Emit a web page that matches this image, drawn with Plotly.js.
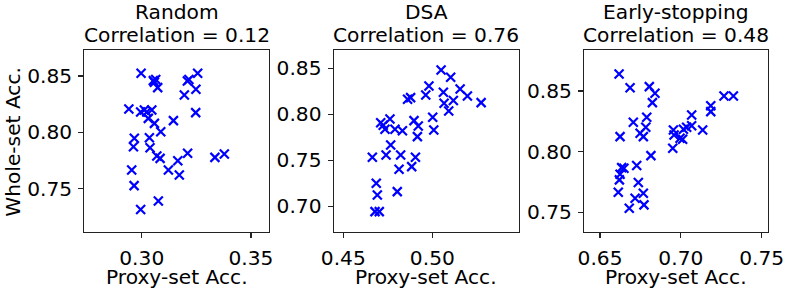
<!DOCTYPE html>
<html>
<head>
<meta charset="utf-8">
<script src="https://cdn.plot.ly/plotly-3.0.1.min.js"></script>
<style>html,body{margin:0;padding:0;background:#fff;}#chart{width:789px;height:290px;}</style>
</head>
<body>
<div id="chart"></div>
<script>
// Panel titles
const panelNames = ["Random", "DSA", "Early-stopping"];
const correlations = ["0.12", "0.76", "0.48"];
const xLabel = "Proxy-set Acc.";
const yLabel = "Whole-set Acc.";

// Random selection
const randomProxy = [0.2997,0.3053,0.3064,0.3058,0.3073,0.3195,0.3216,0.3209,0.3256,0.3248,
  0.2941,0.2995,0.3012,0.3023,0.3046,0.3030,0.3058,0.3087,0.3145,0.3247,
  0.2966,0.2962,0.3035,0.3038,0.3069,0.3084,0.3165,0.3210,0.3335,0.3378,
  0.3122,0.3172,0.2954,0.2965,0.3076,0.2995];
const randomWhole = [0.8524,0.8459,0.8470,0.8444,0.8397,0.8331,0.8470,0.8456,0.8524,0.8382,
  0.8207,0.8180,0.8198,0.8180,0.8198,0.8124,0.8080,0.8006,0.8104,0.8175,
  0.7947,0.7873,0.7953,0.7864,0.7790,0.7769,0.7748,0.7814,0.7778,0.7808,
  0.7666,0.7621,0.7666,0.7527,0.7390,0.7316];

// DSA
const dsaProxy = [0.5049,0.5103,0.5156,0.5197,0.5274,0.5062,0.5118,0.5066,0.5092,0.4981,
  0.4963,0.4861,0.4878,0.5002,0.5008,0.4897,0.4921,0.4916,0.4762,0.4710,
  0.4734,0.4790,0.4832,0.4766,0.4740,0.4822,0.4905,0.4663,0.4813,0.4884,
  0.4803,0.4685,0.4691,0.4678,0.4702,0.4724];
const dsaWhole = [0.8482,0.8402,0.8275,0.8199,0.8127,0.8239,0.8149,0.8120,0.8036,0.8308,
  0.8210,0.8163,0.8181,0.7967,0.7830,0.7931,0.7873,0.7757,0.7949,0.7909,
  0.7837,0.7837,0.7822,0.7667,0.7558,0.7558,0.7533,0.7533,0.7402,0.7431,
  0.7159,0.7250,0.7123,0.6942,0.6942,0.7880];

// Early-stopping
const esProxy = [0.6618,0.6686,0.6805,0.6840,0.6824,0.6789,0.6706,0.6783,0.6748,0.6768,
  0.6624,0.6815,0.6727,0.6634,0.6648,0.6624,0.6620,0.6737,0.6613,0.6768,
  0.6717,0.6772,0.6681,0.6954,0.6958,0.6995,0.7016,0.7036,0.7067,0.7067,
  0.7011,0.6950,0.7135,0.7185,0.7185,0.7267,0.7325];
const esWhole = [0.8640,0.8527,0.8536,0.8481,0.8404,0.8283,0.8242,0.8201,0.8151,0.8124,
  0.8124,0.7967,0.7885,0.7868,0.7863,0.7813,0.7767,0.7745,0.7665,0.7657,
  0.7615,0.7561,0.7533,0.8179,0.8137,0.8110,0.8184,0.8201,0.8214,0.8302,
  0.8102,0.8028,0.8179,0.8379,0.8330,0.8459,0.8459];

// Ticks
const xTicks = [[0.30,0.35],[0.45,0.50],[0.65,0.70,0.75]];
const yTicks = [[0.75,0.80,0.85],[0.70,0.75,0.80,0.85],[0.75,0.80,0.85]];
const xRanges = [[0.2737,0.3584],[0.4446,0.5485],[0.6401,0.7541]];
const yRanges = [[0.7113,0.8731],[0.6717,0.8699],[0.7335,0.8838]];

const W = 789, H = 290;
const xDom = [[84.3,269.3],[333.7,518.7],[584,768.3]];
const yTop = 50, yBot = 232.3;
const FONT = "DejaVu Sans, sans-serif";
const FS = 20.2;

const xs = [randomProxy, dsaProxy, esProxy];
const ys = [randomWhole, dsaWhole, esWhole];

const traces = [];
const layout = {
  width: W, height: H,
  margin: {l:0, r:0, t:0, b:0},
  paper_bgcolor: "#fff", plot_bgcolor: "#fff",
  showlegend: false,
  font: {family: FONT, size: FS, color: "#000"},
  annotations: []
};

for (let i = 0; i < 3; i++) {
  const sfx = i === 0 ? "" : String(i+1);
  traces.push({
    type: "scatter", mode: "markers",
    x: xs[i], y: ys[i],
    xaxis: "x" + sfx, yaxis: "y" + sfx,
    marker: {symbol: "x-thin-open", size: 9, color: "#0000ff", line: {width: 2.2, color: "#0000ff"}},
    hoverinfo: "skip"
  });
  const axCommon = {
    showgrid: false, zeroline: false,
    showline: true, mirror: true, linecolor: "#222", linewidth: 1.1,
    ticks: "outside", ticklen: 5, tickwidth: 1.1, tickcolor: "#222",
    tickfont: {family: FONT, size: FS, color: "#000"},
    tickformat: ".2f", fixedrange: true
  };
  layout["xaxis" + sfx] = Object.assign({}, axCommon, {
    domain: [xDom[i][0]/W, xDom[i][1]/W],
    range: xRanges[i], tickmode: "array", tickvals: xTicks[i],
    anchor: "y" + sfx, ticklabelstandoff: 2
  });
  layout["yaxis" + sfx] = Object.assign({}, axCommon, {
    domain: [(H - yBot)/H, (H - yTop)/H],
    range: yRanges[i], tickmode: "array", tickvals: yTicks[i],
    anchor: "x" + sfx, ticklabelstandoff: 2
  });
  const cx = (xDom[i][0] + xDom[i][1]) / 2 / W;
  layout.annotations.push({
    text: panelNames[i], xref: "paper", yref: "paper", x: cx, y: 1 - 12/H,
    xanchor: "center", yanchor: "middle", showarrow: false,
    font: {family: FONT, size: FS, color: "#000"}
  });
  layout.annotations.push({
    text: "Correlation = " + correlations[i], xref: "paper", yref: "paper", x: cx, y: 1 - 35/H,
    xanchor: "center", yanchor: "middle", showarrow: false,
    font: {family: FONT, size: FS, color: "#000"}
  });
  layout.annotations.push({
    text: xLabel, xref: "paper", yref: "paper", x: cx, y: 1 - 277/H,
    xanchor: "center", yanchor: "middle", showarrow: false, borderpad: 0,
    font: {family: FONT, size: FS, color: "#000"}
  });
}
layout.annotations.push({
  text: yLabel, xref: "paper", yref: "paper", x: 13.3/W, y: 1 - 141.5/H,
  xanchor: "center", yanchor: "middle", showarrow: false, textangle: -90,
  font: {family: FONT, size: FS, color: "#000"}
});

Plotly.newPlot("chart", traces, layout, {displayModeBar: false, staticPlot: true});
</script>
</body>
</html>
